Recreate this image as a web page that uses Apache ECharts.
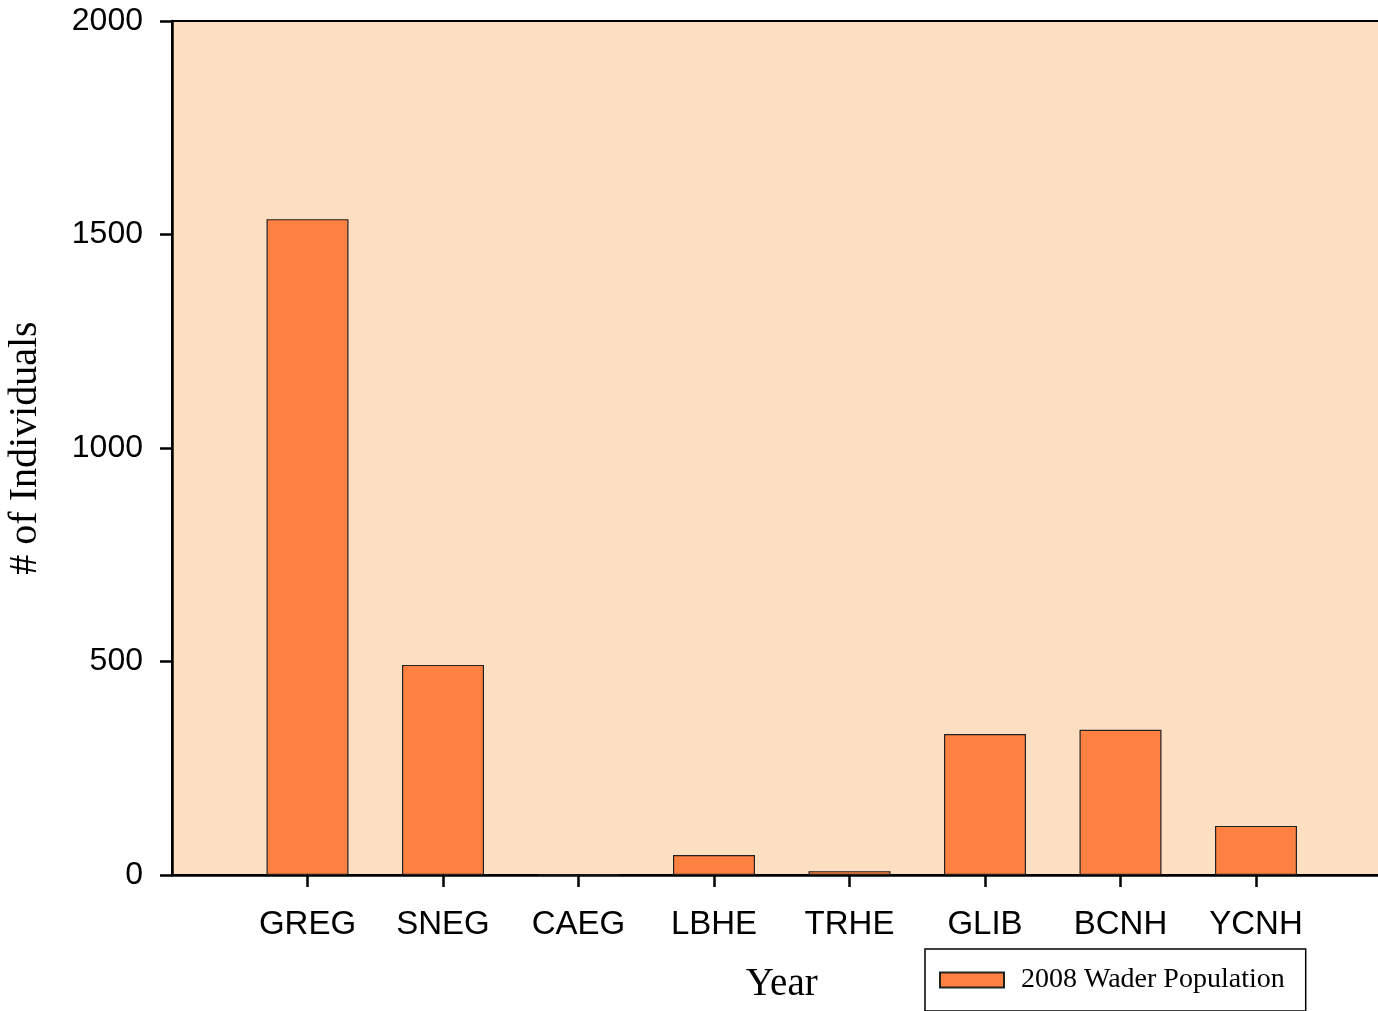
<!DOCTYPE html>
<html>
<head>
<meta charset="utf-8">
<script src="https://cdn.jsdelivr.net/npm/echarts@6/dist/echarts.min.js"></script>
<style>html,body{margin:0;padding:0;background:#fff}#c{width:1378px;height:1011px}</style>
</head>
<body>
<div id="c"></div>
<script>
const categories = ['GREG', 'SNEG', 'CAEG', 'LBHE', 'TRHE', 'GLIB', 'BCNH', 'YCNH'];
const population2008 = [1536, 492, 0, 47, 9, 330, 340, 115];
const yTicks = [0, 500, 1000, 1500, 2000];
const seriesName = '2008 Wader Population';

// pad one empty slot on each side so the first category sits one step in from the axis
const axisCats = [''].concat(categories, ['']);
const axisVals = [null].concat(population2008, [null]);

const chart = echarts.init(document.getElementById('c'));
chart.setOption({
  animation: false,
  backgroundColor: '#ffffff',
  grid: {
    left: 172, top: 21, width: 1219.5, height: 854,
    show: true, backgroundColor: '#FFDFC1', borderColor: '#000', borderWidth: 2,
    outerBoundsMode: 'none', containLabel: false
  },
  legend: {
    left: 925, top: 949,
    data: [seriesName],
    icon: 'rect', itemWidth: 64, itemHeight: 15,
    padding: [17, 21, 17, 14],
    borderColor: '#000', borderWidth: 1.5, backgroundColor: '#fff',
    textStyle: { fontFamily: 'Liberation Serif', fontSize: 28, color: '#000', padding: [0, 0, 0, 12] }
  },
  xAxis: {
    type: 'category', data: axisCats, boundaryGap: false,
    name: 'Year', nameLocation: 'middle', nameGap: 90,
    nameTextStyle: { fontFamily: 'Liberation Serif', fontSize: 39, color: '#000' },
    axisLine: { lineStyle: { color: '#000', width: 2.5 } },
    axisTick: { show: true, length: 12, lineStyle: { color: '#000', width: 2.5 },
      interval: function (i) { return i > 0 && i < axisCats.length - 1; } },
    axisLabel: { interval: 0, margin: 33, fontFamily: 'Liberation Sans', fontSize: 33, color: '#000' },
    splitLine: { show: false }
  },
  yAxis: {
    type: 'value', min: yTicks[0], max: yTicks[yTicks.length - 1], interval: 500,
    name: '# of Individuals', nameLocation: 'middle', nameGap: 127,
    nameTextStyle: { fontFamily: 'Liberation Serif', fontSize: 40, color: '#000' },
    axisLine: { show: true, lineStyle: { color: '#000', width: 2.5 } },
    axisTick: { show: true, length: 12, lineStyle: { color: '#000', width: 2.5 } },
    axisLabel: { margin: 29, fontFamily: 'Liberation Sans', fontSize: 32, color: '#000',
      formatter: function (v) { return String(v); } },
    splitLine: { show: false }
  },
  series: [{
    name: seriesName, type: 'bar', data: axisVals, barWidth: 82,
    itemStyle: { color: '#FF8142', borderColor: '#222', borderWidth: 1.2 }
  }]
});
</script>
</body>
</html>
